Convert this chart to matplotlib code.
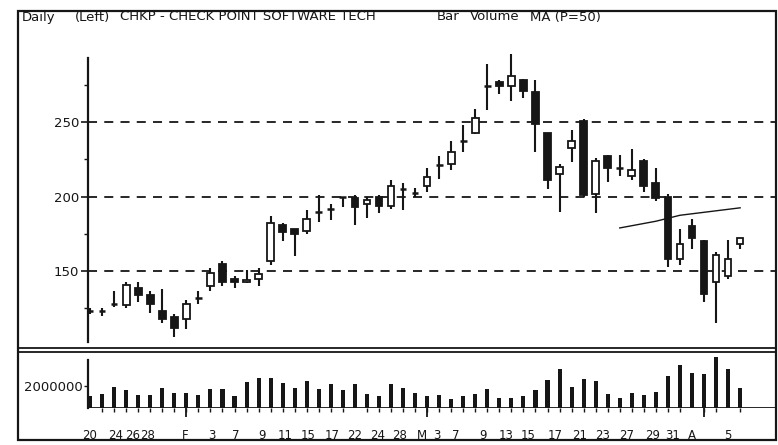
import matplotlib
matplotlib.use('Agg')
import matplotlib.pyplot as plt
from matplotlib.patches import Rectangle
from matplotlib.lines import Line2D

# daily candles, CHKP
opens = [123, 123, 128, 127, 139, 134, 123, 119, 118, 132,
         140, 155, 145, 143, 145, 157, 181, 178, 177, 190,
         192, 199.5, 199, 195, 200, 194, 205, 202.5, 207, 221,
         222, 237, 243, 274.5, 277, 274, 278, 270, 243, 215,
         232.5, 251, 202, 227, 219.5, 214, 224, 209, 200, 158,
         180, 170, 143, 147, 168]
closes = [123, 123, 128, 141, 134, 128, 118, 112, 128, 132,
          149, 143, 143, 144, 148, 182, 176, 175, 185, 190,
          192, 199.5, 193, 198, 194, 207, 205, 202.5, 213, 221,
          230, 237, 252.5, 274.5, 274, 281, 271, 249, 211, 220,
          237.5, 201, 224, 219, 219.5, 218, 207, 199, 158, 168,
          172, 135, 161, 158, 172]
highs = [125, 125, 137, 143, 143, 137, 138, 121, 131, 137,
         152, 157, 147, 151, 152, 187, 182, 178, 191, 201,
         195, 200, 201, 200, 201, 211, 209, 206, 219, 227,
         237, 248, 259, 289, 278, 296, 279, 278, 243, 222,
         245, 252, 226, 228, 228, 232, 225, 219, 202, 178,
         185, 171, 163, 171, 172]
lows = [121, 120, 126, 125, 129, 122, 115, 106, 111, 128,
        137, 140, 139, 142, 140, 154, 170, 160, 175, 183,
        184, 193, 181, 186, 189, 192, 191, 200, 203, 212,
        218, 230, 242, 258, 269, 264, 266, 230, 205, 190,
        223, 200, 189, 210, 214, 211, 203, 197, 153, 154,
        165, 129, 115, 145, 165]
# volume in millions of shares
volumes = [1.13, 1.30, 1.91, 1.65, 1.22, 1.22, 1.83, 1.39, 1.39, 1.22,
           1.74, 1.74, 1.13, 2.35, 2.70, 2.70, 2.26, 1.83, 2.44, 1.74,
           2.18, 1.65, 2.18, 1.30, 1.13, 2.18, 1.83, 1.40, 1.05, 1.15,
           0.85, 1.05, 1.30, 1.70, 0.95, 0.95, 1.05, 1.65, 2.55, 3.55,
           1.90, 2.60, 2.45, 1.30, 0.90, 1.35, 1.20, 1.45, 2.95, 3.90,
           3.20, 3.05, 4.60, 3.55, 1.85]
# moving average (P=50), shown for the last bars only
ma_start = 44
ma_values = [179, 180.5, 182, 183.5, 185.5, 187.5, 188.5, 189.5, 190.5, 191.5, 192.5]

date_labels = ['20', '24', '26', '28', 'F', '3', '7', '9', '11', '15', '17', '22', '24', '28',
               'M', '3', '7', '9', '13', '15', '17', '21', '23', '27', '29', '31', 'A', '5']
date_pos = [0, 2.1, 3.5, 4.8, 7.9, 10.1, 12.1, 14.3, 16.2, 18.1, 20.1, 22.0, 23.9, 25.7,
            27.6, 28.8, 30.4, 32.6, 34.6, 36.4, 38.6, 40.7, 42.6, 44.6, 46.7, 48.4, 50.0, 53.0]
month_starts = [8, 28, 51]

W, H = 778, 445
ink = '#161616'
fs = 9.5
plt.rcParams['font.family'] = ['DejaVu Sans']


def fx(px):
    return px / W


def fy(py):
    return 1 - py / H


fig = plt.figure(figsize=(W / 100, H / 100), dpi=100)

ax = fig.add_axes([fx(88), fy(342), fx(776) - fx(88), fy(58) - fy(342)])
axv = fig.add_axes([fx(88), fy(408), fx(776) - fx(88), fy(352) - fy(408)])

n = len(opens)
xlim = (-0.17, 56.98)

# price panel
body_w = 0.56
for i, (o, h, l, c) in enumerate(zip(opens, highs, lows, closes)):
    ax.vlines(i, l, h, color=ink, lw=1.5, zorder=2, clip_on=False)
    if abs(c - o) < 1:
        ax.hlines(o, i - body_w / 2, i + body_w / 2, color=ink, lw=1.8, zorder=3)
    else:
        ax.add_patch(Rectangle((i - body_w / 2, min(o, c)), body_w, abs(c - o),
                               facecolor=ink if c < o else 'white',
                               edgecolor=ink, lw=1.3, zorder=3))

for level in (150, 200, 250):
    ax.axhline(level, color=ink, lw=1.3, ls=(0, (5, 4)), zorder=1)

ax.plot(range(ma_start, ma_start + len(ma_values)), ma_values, color=ink, lw=1.0)

ax.set_xlim(*xlim)
ax.set_ylim(102.5, 293)
for s in ('top', 'right', 'bottom'):
    ax.spines[s].set_visible(False)
ax.spines['left'].set_linewidth(1.6)
ax.spines['left'].set_color(ink)
ax.set_yticks([150, 200, 250])
ax.set_yticks([125, 175, 225, 275], minor=True)
ax.tick_params(axis='y', which='major', length=5, width=1.2, pad=1.5,
               labelsize=fs, colors=ink)
ax.tick_params(axis='y', which='minor', length=3, width=1.0, colors=ink)
ax.tick_params(axis='x', bottom=False, labelbottom=False)

# volume panel
axv.bar(range(n), volumes, width=0.34, color=ink)
axv.axhline(0, color=ink, lw=1.3)
axv.vlines(month_starts, -0.8, 0, color=ink, lw=1.3, clip_on=False)
axv.set_xlim(*xlim)
axv.set_ylim(0, 5.09)
for s in ('top', 'right', 'bottom'):
    axv.spines[s].set_visible(False)
axv.spines['left'].set_bounds(0, 4.36)
axv.spines['left'].set_linewidth(1.6)
axv.spines['left'].set_color(ink)
axv.set_yticks([2])
axv.set_yticklabels(['2000000'])
axv.tick_params(axis='y', length=3, width=1.0, pad=1, labelsize=fs, colors=ink)
axv.set_xticks(date_pos)
axv.set_xticklabels(date_labels)
axv.set_xticks(range(n), minor=True)
axv.tick_params(axis='x', which='major', length=0, pad=15, labelsize=8.5, colors=ink)
axv.tick_params(axis='x', which='minor', length=3, width=1.0, colors=ink)

# header
header = [(22, 'Daily'), (75, '(Left)'), (120, 'CHKP - CHECK POINT SOFTWARE TECH'),
          (437, 'Bar'), (470, 'Volume'), (530, 'MA (P=50)')]
for px, txt in header:
    fig.text(fx(px), fy(17), txt, fontsize=fs, color=ink, va='center', ha='left')

# frame and panel separator
fig.add_artist(Rectangle((fx(18), fy(440)), fx(776) - fx(18), fy(11) - fy(440),
                         transform=fig.transFigure, fill=False, lw=1.6, edgecolor=ink))
for py in (348, 352):
    fig.add_artist(Line2D([fx(18), fx(776)], [fy(py), fy(py)],
                          transform=fig.transFigure, color=ink, lw=1.3))

fig.savefig('out.png', dpi=100, facecolor='white')
